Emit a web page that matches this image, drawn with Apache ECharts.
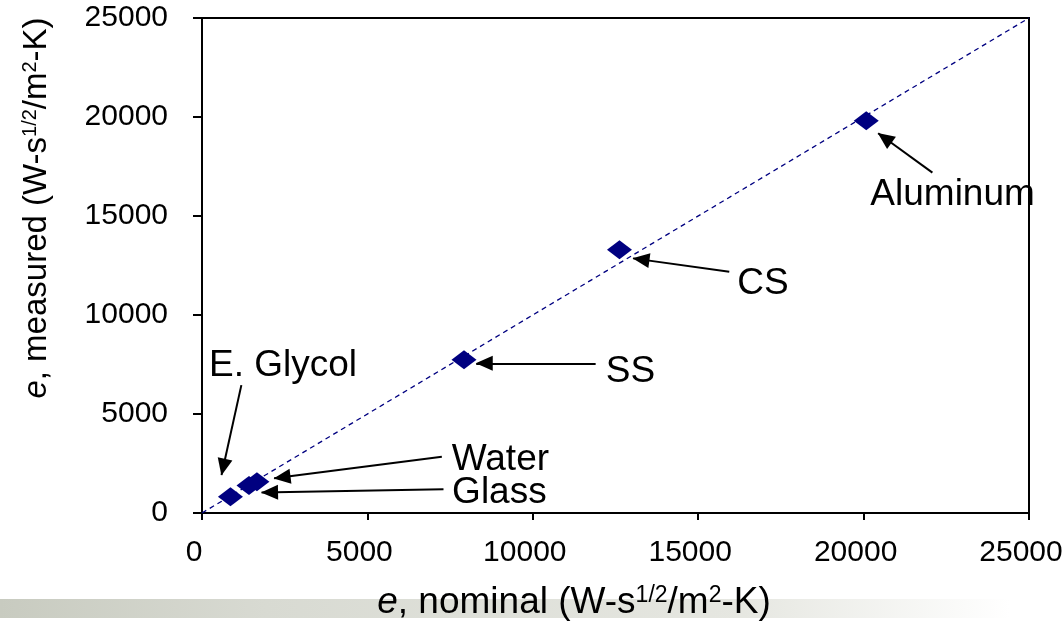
<!DOCTYPE html>
<html>
<head>
<meta charset="utf-8">
<script src="https://cdn.jsdelivr.net/npm/echarts@6/dist/echarts.min.js"></script>
<style>
  html, body { margin: 0; padding: 0; background: #ffffff; }
  #chart { width: 1063px; height: 621px; }
</style>
</head>
<body>
<div id="chart"></div>
<script>
// Thermal effusivity: nominal vs measured, W-s^1/2/m^2-K
const materials = ['E. Glycol', 'Glass', 'Water', 'SS', 'CS', 'Aluminum'];
const nominal   = [860, 1420, 1660, 7920, 12620, 20080];
const measured  = [820, 1390, 1580, 7740, 13300, 19810];

// 1:1 reference line
const parityX = [0, 25000];
const parityY = [0, 25000];

// axis ticks
const axisMin = 0;
const axisMax = 25000;
const axisStep = 5000;

// annotation text anchors (data space)
const noteNames = ['E. Glycol', 'Water', 'Glass', 'SS', 'CS', 'Aluminum'];
const noteX     = [2450, 9020, 8990, 12950, 16960, 22690];
const noteY     = [7430, 2690, 1010, 7150, 11590, 16060];

// arrow tails and heads (data space)
const arrowFromX = [1190, 7250, 7300, 11900, 15940, 22080];
const arrowFromY = [6460, 2840, 1200, 7560, 12190, 17190];
const arrowToX   = [590, 2180, 1800, 8290, 13030, 20440];
const arrowToY   = [1920, 1750, 1030, 7560, 12860, 19180];

const FONT = '"Liberation Sans", Arial, Helvetica, sans-serif';

const chart = echarts.init(document.getElementById('chart'), null, { renderer: 'canvas' });

const pointData = materials.map((m, i) => ({ name: m, value: [nominal[i], measured[i]] }));
const noteData = noteNames.map((n, i) => ({ name: n, value: [noteX[i], noteY[i]] }));
const arrowData = arrowFromX.map((x, i) => [
  { coord: [x, arrowFromY[i]], symbol: 'none' },
  { coord: [arrowToX[i], arrowToY[i]], symbol: 'triangle', symbolSize: [15, 17], symbolOffset: [0, 8] }
]);

function titleRich(size, supSize) {
  return {
    i:   { fontFamily: FONT, fontSize: size, fontStyle: 'italic', color: '#000' },
    t:   { fontFamily: FONT, fontSize: size, color: '#000' },
    sup: { fontFamily: FONT, fontSize: supSize, color: '#000', verticalAlign: 'top', lineHeight: supSize }
  };
}

chart.setOption({
  animation: false,
  backgroundColor: '#ffffff',
  grid: {
    left: 202, right: 34, top: 18, bottom: 108,
    containLabel: false,
    outerBoundsMode: 'none',
    show: true,
    borderColor: '#000',
    borderWidth: 2,
    backgroundColor: 'transparent'
  },
  xAxis: {
    type: 'value',
    min: axisMin, max: axisMax, interval: axisStep,
    splitLine: { show: false },
    axisLine: { show: true, onZero: false, lineStyle: { color: '#000', width: 2 } },
    axisTick: { show: true, inside: false, length: 7, lineStyle: { color: '#000', width: 2 } },
    axisLabel: {
      show: true, margin: 25, color: '#000', fontSize: 30, fontFamily: FONT,
      padding: [0, 16, 0, 0],
      formatter: v => String(v)
    }
  },
  yAxis: {
    type: 'value',
    min: axisMin, max: axisMax, interval: axisStep,
    splitLine: { show: false },
    axisLine: { show: true, onZero: false, lineStyle: { color: '#000', width: 2 } },
    axisTick: { show: true, inside: false, length: 9, lineStyle: { color: '#000', width: 2 } },
    axisLabel: { show: true, margin: 34, color: '#000', fontSize: 30, fontFamily: FONT, formatter: v => String(v) }
  },
  graphic: [
    {
      type: 'rect', z: -10, silent: true,
      shape: { x: 0, y: 599, width: 1063, height: 19 },
      style: {
        fill: new echarts.graphic.LinearGradient(0, 0, 1, 0, [
          { offset: 0, color: '#c8cbc0' },
          { offset: 0.25, color: '#d8dad2' },
          { offset: 0.7, color: '#e6e7e1' },
          { offset: 0.95, color: '#ffffff' },
          { offset: 1, color: '#ffffff' }
        ])
      }
    },
    {
      type: 'text', silent: true, z: 10,
      x: 574, y: 603,
      style: {
        text: '{i|e}{t|, nominal (W-s}{sup|1/2}{t|/m}{sup|2}{t|-K)}',
        rich: titleRich(37, 23),
        align: 'center', verticalAlign: 'middle'
      }
    },
    {
      type: 'text', silent: true, z: 10,
      x: 37, y: 208, rotation: Math.PI / 2,
      style: {
        text: '{i|e}{t|, measured (W-s}{sup|1/2}{t|/m}{sup|2}{t|-K)}',
        rich: titleRich(33, 20),
        align: 'center', verticalAlign: 'middle'
      }
    }
  ],
  series: [
    {
      name: 'parity',
      type: 'line',
      data: parityX.map((x, i) => [x, parityY[i]]),
      showSymbol: false,
      silent: true,
      z: 1,
      lineStyle: { color: '#000080', width: 1.3, type: [5, 4] }
    },
    {
      name: 'effusivity',
      type: 'scatter',
      data: pointData,
      symbol: 'diamond',
      symbolSize: [25, 19],
      z: 3,
      itemStyle: { color: '#000080', opacity: 1 },
      silent: true,
      markLine: {
        silent: true,
        animation: false,
        symbol: ['none', 'triangle'],
        symbolSize: 16,
        label: { show: false },
        lineStyle: { color: '#000', width: 2, type: 'solid', opacity: 1 },
        emphasis: { disabled: true },
        data: arrowData
      }
    },
    {
      name: 'notes',
      type: 'scatter',
      data: noteData,
      symbolSize: 1,
      itemStyle: { color: 'rgba(0,0,0,0)', opacity: 1 },
      silent: true,
      z: 4,
      label: {
        show: true,
        position: 'inside',
        formatter: p => p.name,
        color: '#000',
        opacity: 1,
        textBorderWidth: 0,
        fontSize: 37,
        fontFamily: FONT
      }
    }
  ]
});
</script>
</body>
</html>
